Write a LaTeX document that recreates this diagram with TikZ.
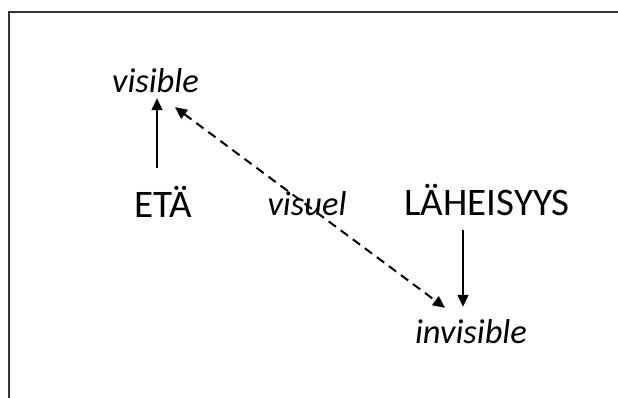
\documentclass[tikz,border=0pt]{standalone}
\usepackage{fontspec}
\setmainfont{Carlito}
\usetikzlibrary{arrows.meta}

\begin{document}
\begin{tikzpicture}[x=1pt,y=-1pt,
		word/.style={inner sep=0pt,anchor=base,text height=25pt,text depth=0pt,font=\fontsize{39}{44}\selectfont},
		itword/.style={inner sep=0pt,anchor=base,text height=20pt,text depth=0pt,font=\fontsize{34.5}{40}\selectfont\itshape},
		solidarr/.style={line width=1.3pt,-{Triangle[length=12pt,width=11pt]}},
		dasharr/.style={line width=2pt,dash pattern=on 9pt off 6pt,{Triangle[length=12pt,width=11pt]}-{Triangle[length=12pt,width=11pt]}}]
		\useasboundingbox (0,0) rectangle (618,398);
		\draw[line width=2pt,black!80] (9,398) -- (9,12) -- (620,12);
		\node[itword] (visible) at (155.5,93) {visible};
		\node[word] (eta) at (163.5,217) {ETÄ};
		\node[itword] (visuel) at (307,215) {visuel};
		\node[word] (laheisyys) at (487,215) {LÄHEISYYS};
		\node[itword] (invisible) at (471,343) {invisible};
		\draw[solidarr] ([xshift=-6.5pt,yshift=24pt]eta.north) -- ([xshift=1.5pt,yshift=-5pt]visible.south);
		\draw[solidarr] ([xshift=-24pt,yshift=-15pt]laheisyys.south) -- ([xshift=-8pt,yshift=16pt]invisible.north);
		\draw[dasharr] ([xshift=19.5pt,yshift=-14pt]visible.south) -- ([xshift=-26pt,yshift=15pt]invisible.north);
	\end{tikzpicture}
\end{document}
